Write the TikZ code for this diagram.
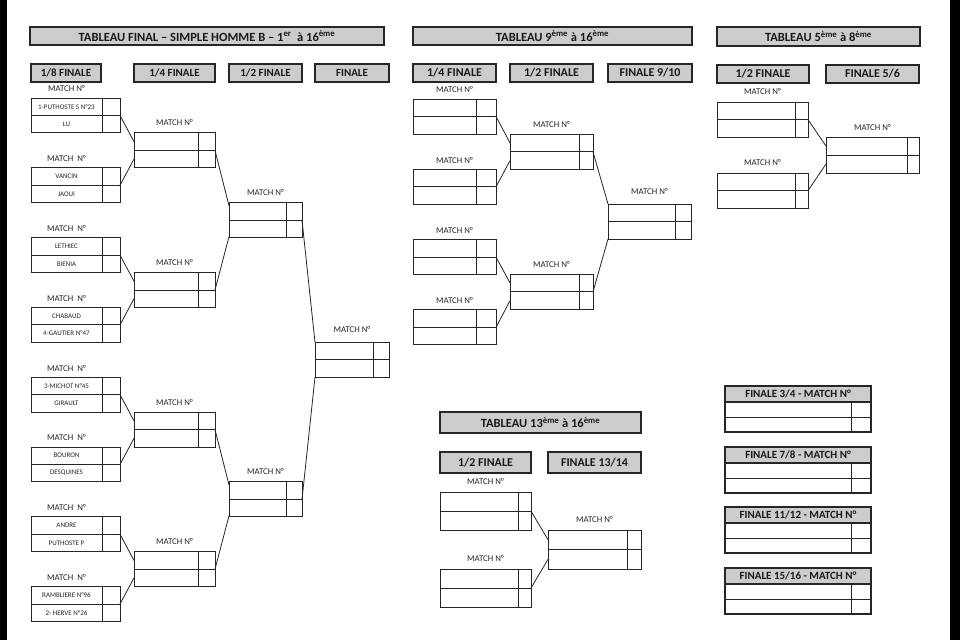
\documentclass[tikz,border=0pt]{standalone}
\usepackage{fontspec}
\setmainfont{Carlito}
\usetikzlibrary{calc}

\begin{document}
\begin{tikzpicture}[x=1pt,y=-1pt,
  pl/.style={draw=black!85,line width=0.9pt,inner sep=0pt,outer sep=0pt,anchor=north west,text=black!85,font=\fontsize{7}{8}\selectfont},
  ttl/.style={draw=black!85,fill=black!20,line width=1.5pt,inner sep=0pt,outer sep=0pt,anchor=north west,text=black!90,font=\bfseries\fontsize{12.5}{14}\selectfont},
  hd/.style={ttl,font=\bfseries\fontsize{12}{13}\selectfont},
  hds/.style={ttl,font=\bfseries\fontsize{11}{12}\selectfont},
  lab/.style={text=black!85,inner sep=0pt,font=\fontsize{8.8}{9}\selectfont},
  ln/.style={draw=black!85,line width=0.8pt}]
\fill[white] (0,0) rectangle (960,640);
\fill[black] (0,0) rectangle (7,640);
\fill[black] (950,0) rectangle (960,640);
\useasboundingbox (0,0) rectangle (960,640);

\node[ttl,minimum width=354pt,minimum height=18pt] (tA) at (30,27) {TABLEAU FINAL – SIMPLE HOMME B – 1\textsuperscript{er}\ \ à 16\textsuperscript{ème}};
\node[hds,minimum width=70pt,minimum height=18pt] (tA1) at (31,64) {1/8 FINALE};
\node[hds,minimum width=81pt,minimum height=18pt] (tA2) at (134,64) {1/4 FINALE};
\node[hds,minimum width=73pt,minimum height=18pt] (tA3) at (229,64) {1/2 FINALE};
\node[hds,minimum width=74pt,minimum height=18pt] (tA4) at (315,64) {FINALE};

\node[ttl,minimum width=279pt,minimum height=18pt] (tB) at (413,27) {TABLEAU 9\textsuperscript{ème} à 16\textsuperscript{ème}};
\node[hd,minimum width=83pt,minimum height=18pt] (tB1) at (413,64) {1/4 FINALE};
\node[hd,minimum width=83pt,minimum height=18pt] (tB2) at (510,64) {1/2 FINALE};
\node[hd,minimum width=84pt,minimum height=18pt] (tB3) at (608,64) {FINALE 9/10};

\node[ttl,minimum width=203pt,minimum height=19pt] (tC) at (717,27) {TABLEAU 5\textsuperscript{ème} à 8\textsuperscript{ème}};
\node[hd,minimum width=92pt,minimum height=18pt] (tC1) at (717,65) {1/2 FINALE};
\node[hd,minimum width=93pt,minimum height=18pt] (tC2) at (826,65) {FINALE 5/6};

\node[ttl,minimum width=201pt,minimum height=21pt] (tD) at (440,412) {TABLEAU 13\textsuperscript{ème} à 16\textsuperscript{ème}};
\node[hd,minimum width=91pt,minimum height=21pt] (tD1) at (440,452) {1/2 FINALE};
\node[hd,minimum width=93pt,minimum height=21pt] (tD2) at (548,452) {FINALE 13/14};

\foreach \n/\p/\q/\s in {1/{1-PUTHOSTE S N°23}/LU/{MATCH N°},2/VANCIN/JAOUI/{MATCH~~N°},3/LETHIEC/BIENIA/{MATCH~~N°},4/CHABAUD/{4-GAUTIER N°47}/{MATCH~~N°},5/{3-MICHOT N°45}/GIRAULT/{MATCH~~N°},6/BOURON/DESQUINES/{MATCH~~N°},7/ANDRE/{PUTHOSTE P}/{MATCH~~N°},8/{RAMBLIERE N°96}/{2- HERVE N°26}/{MATCH~~N°}}{
  \node[pl,minimum width=71pt,minimum height=17.45pt] (h\n-a) at (31,{98+69.8*(\n-1)}) {\p};
  \node[pl,minimum width=18pt,minimum height=17.45pt] (h\n-as) at (h\n-a.north east) {};
  \node[pl,minimum width=71pt,minimum height=17.45pt] (h\n-b) at (h\n-a.south west) {\q};
  \node[pl,minimum width=18pt,minimum height=17.45pt] (h\n-bs) at (h\n-b.north east) {};
  \node[lab] (h\n-m) at ([yshift=9pt]h\n-a.north) {\s};
}
\foreach \k in {1,...,4}{
  \node[pl,minimum width=64pt,minimum height=17.45pt] (q\k-a) at (134,{132.9+139.6*(\k-1)}) {};
  \node[pl,minimum width=17pt,minimum height=17.45pt] (q\k-as) at (q\k-a.north east) {};
  \node[pl,minimum width=64pt,minimum height=17.45pt] (q\k-b) at (q\k-a.south west) {};
  \node[pl,minimum width=17pt,minimum height=17.45pt] (q\k-bs) at (q\k-b.north east) {};
  \node[lab] (q\k-m) at ([yshift=10pt]$(q\k-a.north west)!.5!(q\k-as.north east)$) {MATCH N°};
  \pgfmathtruncatemacro\u{2*\k-1}
  \pgfmathtruncatemacro\v{2*\k}
  \draw[ln] (h\u-as.south east) -- (q\k-a.west);
  \draw[ln] (h\v-as.south east) -- (q\k-b.west);
}
\foreach \k in {1,2}{
  \node[pl,minimum width=57pt,minimum height=17.45pt] (d\k-a) at (229,{202.7+279.2*(\k-1)}) {};
  \node[pl,minimum width=16pt,minimum height=17.45pt] (d\k-as) at (d\k-a.north east) {};
  \node[pl,minimum width=57pt,minimum height=17.45pt] (d\k-b) at (d\k-a.south west) {};
  \node[pl,minimum width=16pt,minimum height=17.45pt] (d\k-bs) at (d\k-b.north east) {};
  \node[lab] (d\k-m) at ([yshift=10pt]$(d\k-a.north west)!.5!(d\k-as.north east)$) {MATCH N°};
  \pgfmathtruncatemacro\u{2*\k-1}
  \pgfmathtruncatemacro\v{2*\k}
  \draw[ln] (q\u-as.south east) -- ([yshift=-3pt]d\k-a.north west);
  \draw[ln] (q\v-as.south east) -- ([yshift=1pt]d\k-b.south west);
}
\node[pl,minimum width=58pt,minimum height=17.45pt] (f-a) at (315,342.3) {};
\node[pl,minimum width=16pt,minimum height=17.45pt] (f-as) at (f-a.north east) {};
\node[pl,minimum width=58pt,minimum height=17.45pt] (f-b) at (f-a.south west) {};
\node[pl,minimum width=16pt,minimum height=17.45pt] (f-bs) at (f-b.north east) {};
\node[lab] (f-m) at ([yshift=13pt]$(f-a.north west)!.5!(f-as.north east)$) {MATCH N°};
\draw[ln] (d1-as.south east) -- (f-a.north west);
\draw[ln] (d2-as.south east) -- (f-b.south west);

\foreach \k in {1,...,4}{
  \node[pl,minimum width=63pt,minimum height=17.5pt] (nq\k-a) at (413,{99+70.3*(\k-1)}) {};
  \node[pl,minimum width=20pt,minimum height=17.5pt] (nq\k-as) at (nq\k-a.north east) {};
  \node[pl,minimum width=63pt,minimum height=17.5pt] (nq\k-b) at (nq\k-a.south west) {};
  \node[pl,minimum width=20pt,minimum height=17.5pt] (nq\k-bs) at (nq\k-b.north east) {};
  \node[lab] (nq\k-m) at ([yshift=9pt]$(nq\k-a.north west)!.5!(nq\k-as.north east)$) {MATCH N°};
}
\foreach \k in {1,2}{
  \node[pl,minimum width=69pt,minimum height=17.8pt] (nd\k-a) at (510,{134+140*(\k-1)}) {};
  \node[pl,minimum width=14pt,minimum height=17.8pt] (nd\k-as) at (nd\k-a.north east) {};
  \node[pl,minimum width=69pt,minimum height=17.8pt] (nd\k-b) at (nd\k-a.south west) {};
  \node[pl,minimum width=14pt,minimum height=17.8pt] (nd\k-bs) at (nd\k-b.north east) {};
  \node[lab] (nd\k-m) at ([yshift=9pt]$(nd\k-a.north west)!.5!(nd\k-as.north east)$) {MATCH N°};
  \pgfmathtruncatemacro\u{2*\k-1}
  \pgfmathtruncatemacro\v{2*\k}
  \draw[ln] (nq\u-as.south east) -- (nd\k-a.west);
  \draw[ln] (nq\v-as.south east) -- (nd\k-b.west);
}
\node[pl,minimum width=67pt,minimum height=17.5pt] (nf-a) at (608,204) {};
\node[pl,minimum width=16pt,minimum height=17.5pt] (nf-as) at (nf-a.north east) {};
\node[pl,minimum width=67pt,minimum height=17.5pt] (nf-b) at (nf-a.south west) {};
\node[pl,minimum width=16pt,minimum height=17.5pt] (nf-bs) at (nf-b.north east) {};
\node[lab] (nf-m) at ([yshift=12pt]$(nf-a.north west)!.5!(nf-as.north east)$) {MATCH N°};
\draw[ln] (nd1-as.south east) -- (nf-a.north west);
\draw[ln] (nd2-as.south east) -- (nf-b.south west);

\foreach \k in {1,2}{
  \node[pl,minimum width=78pt,minimum height=17.7pt] (cd\k-a) at (717,{102+71*(\k-1)}) {};
  \node[pl,minimum width=13pt,minimum height=17.7pt] (cd\k-as) at (cd\k-a.north east) {};
  \node[pl,minimum width=78pt,minimum height=17.7pt] (cd\k-b) at (cd\k-a.south west) {};
  \node[pl,minimum width=13pt,minimum height=17.7pt] (cd\k-bs) at (cd\k-b.north east) {};
  \node[lab] (cd\k-m) at ([yshift=10pt]$(cd\k-a.north west)!.5!(cd\k-as.north east)$) {MATCH N°};
}
\node[pl,minimum width=81pt,minimum height=18pt] (cf-a) at (826,137) {};
\node[pl,minimum width=12pt,minimum height=18pt] (cf-as) at (cf-a.north east) {};
\node[pl,minimum width=81pt,minimum height=18pt] (cf-b) at (cf-a.south west) {};
\node[pl,minimum width=12pt,minimum height=18pt] (cf-bs) at (cf-b.north east) {};
\node[lab] (cf-m) at ([yshift=9pt]$(cf-a.north west)!.5!(cf-as.north east)$) {MATCH N°};
\draw[ln] (cd1-as.south east) -- (cf-a.west);
\draw[ln] (cd2-as.south east) -- (cf-b.west);

\foreach \k in {1,2}{
  \node[pl,minimum width=78pt,minimum height=19pt] (td\k-a) at (440,{492+77*(\k-1)}) {};
  \node[pl,minimum width=13pt,minimum height=19pt] (td\k-as) at (td\k-a.north east) {};
  \node[pl,minimum width=78pt,minimum height=19pt] (td\k-b) at (td\k-a.south west) {};
  \node[pl,minimum width=13pt,minimum height=19pt] (td\k-bs) at (td\k-b.north east) {};
  \node[lab] (td\k-m) at ([yshift=10pt]$(td\k-a.north west)!.5!(td\k-as.north east)$) {MATCH N°};
}
\node[pl,minimum width=79pt,minimum height=19.5pt] (tf-a) at (548,530) {};
\node[pl,minimum width=14pt,minimum height=19.5pt] (tf-as) at (tf-a.north east) {};
\node[pl,minimum width=79pt,minimum height=19.5pt] (tf-b) at (tf-a.south west) {};
\node[pl,minimum width=14pt,minimum height=19.5pt] (tf-bs) at (tf-b.north east) {};
\node[lab] (tf-m) at ([yshift=10pt]$(tf-a.north west)!.5!(tf-as.north east)$) {MATCH N°};
\draw[ln] (td1-as.south east) -- (tf-a.west);
\draw[ln] (td2-as.south east) -- (tf-b.west);

\foreach \i/\y/\t in {1/386/{3/4},2/447/{7/8},3/507/{11/12},4/568/{15/16}}{
  \node[hds,minimum width=146pt,minimum height=16pt] (p\i-h) at (725,\y) {FINALE \t{} - MATCH N°};
  \node[pl,minimum width=126pt,minimum height=15pt] (p\i-a) at (p\i-h.south west) {};
  \node[pl,minimum width=20pt,minimum height=15pt] (p\i-as) at (p\i-a.north east) {};
  \node[pl,minimum width=126pt,minimum height=15pt] (p\i-b) at (p\i-a.south west) {};
  \node[pl,minimum width=20pt,minimum height=15pt] (p\i-bs) at (p\i-b.north east) {};
  \draw[draw=black!85,line width=1.5pt] (p\i-h.north west) rectangle (p\i-bs.south east);
}
\end{tikzpicture}
\end{document}
